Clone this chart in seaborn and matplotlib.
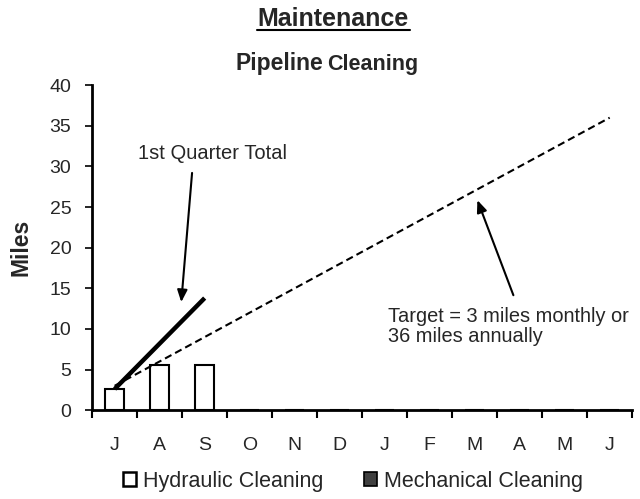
import numpy as np
import pandas as pd
import matplotlib.pyplot as plt
from matplotlib.patches import Patch
from matplotlib.lines import Line2D
import seaborn as sns

# Values.
months = ['Jul', 'Aug', 'Sep', 'Oct', 'Nov', 'Dec',
          'Jan', 'Feb', 'Mar', 'Apr', 'May', 'Jun']
month_labels = ['J', 'A', 'S', 'O', 'N', 'D', 'J', 'F', 'M', 'A', 'M', 'J']
hydraulic = [2.6, 5.6, 5.6, 0, 0, 0, 0, 0, 0, 0, 0, 0]
mechanical = [0, 0, 0, 0, 0, 0, 0, 0, 0, 0, 0, 0]
quarter_total = [2.6, 8.2, 13.8]
target = [3, 6, 9, 12, 15, 18, 21, 24, 27, 30, 33, 36]

sns.set_theme(style='white')
plt.rcParams['font.family'] = ['Liberation Sans', 'DejaVu Sans']

df = pd.DataFrame({'month': months, 'Hydraulic Cleaning': hydraulic,
                   'Mechanical Cleaning': mechanical})

fig = plt.figure(figsize=(6.4, 4.99), dpi=100)
ax = fig.add_axes([0.144, 0.178, 0.8438, 0.6513])

sns.barplot(data=df, x='month', y='Hydraulic Cleaning', order=months,
            color='white', edgecolor='black', linewidth=1.5, width=0.42,
            ax=ax)

pos = np.arange(len(months))
sns.lineplot(x=pos, y=target, color='black', linestyle=(0, (3.5, 2)),
             linewidth=1.5, ax=ax)
sns.lineplot(x=pos[:3], y=quarter_total, color='black', linewidth=3.2,
             solid_capstyle='butt', ax=ax)

ax.set_xlim(-0.5, 11.5)
ax.set_ylim(0, 40)
ax.set_yticks(range(0, 41, 5))
ax.set_xticks(pos)
ax.set_xticklabels(month_labels)
ax.set_xticks(np.arange(-0.5, 12, 1), minor=True)
ax.tick_params(axis='x', which='major', length=0, pad=19, labelsize=14)
ax.tick_params(axis='x', which='minor', bottom=True, length=6, width=1.5,
               direction='out', color='black')
ax.tick_params(axis='y', left=True, length=5, width=1.2, direction='out',
               color='black', labelsize=14, pad=10)
ax.set_xlabel('')
ax.set_ylabel('Miles', fontsize=16.5, fontweight='bold')
ax.yaxis.set_label_coords(-0.111, 0.5)
for side in ['top', 'right']:
    ax.spines[side].set_visible(False)
for side in ['left', 'bottom']:
    ax.spines[side].set_linewidth(2)
    ax.spines[side].set_color('black')

arrow = dict(arrowstyle='-|>,head_length=0.6,head_width=0.25',
             color='black', lw=1.5, shrinkA=0, shrinkB=0)
ax.annotate('', xy=(1.48, 13.3), xytext=(1.72, 29.2), arrowprops=arrow)
ax.text(2.17, 31.6, '1st Quarter Total', ha='center', va='center',
        fontsize=14.5)
ax.annotate('', xy=(8.06, 25.85), xytext=(8.86, 14.15), arrowprops=arrow)
ax.text(6.08, 10.3, 'Target = 3 miles monthly or\n36 miles annually',
        ha='left', va='center', fontsize=14.4, linespacing=1.05)

fig.text(333 / 640, 0.948, 'Maintenance', ha='center', va='baseline',
         fontsize=18, fontweight='bold')
fig.add_artist(Line2D([257 / 640, 410 / 640], [1 - 29.5 / 499, 1 - 29.5 / 499],
                      color='black', linewidth=1.5))
fig.text(323 / 640, 0.86, 'Pipeline', ha='right', va='baseline',
         fontsize=16.5, fontweight='bold')
fig.text(327 / 640, 0.86, 'Cleaning', ha='left', va='baseline',
         fontsize=15.5, fontweight='bold')

handles = [Patch(facecolor='white', edgecolor='black', linewidth=1.8),
           Patch(facecolor='#404040', edgecolor='black', linewidth=1.2)]
fig.legend(handles, ['Hydraulic Cleaning', 'Mechanical Cleaning'],
           loc='center', bbox_to_anchor=(353 / 640, 0.036), ncol=2,
           frameon=False, fontsize=15.5, handlelength=0.6, handleheight=0.6,
           handletextpad=0.3, columnspacing=1.9)

fig.savefig('out.png', dpi=100)
